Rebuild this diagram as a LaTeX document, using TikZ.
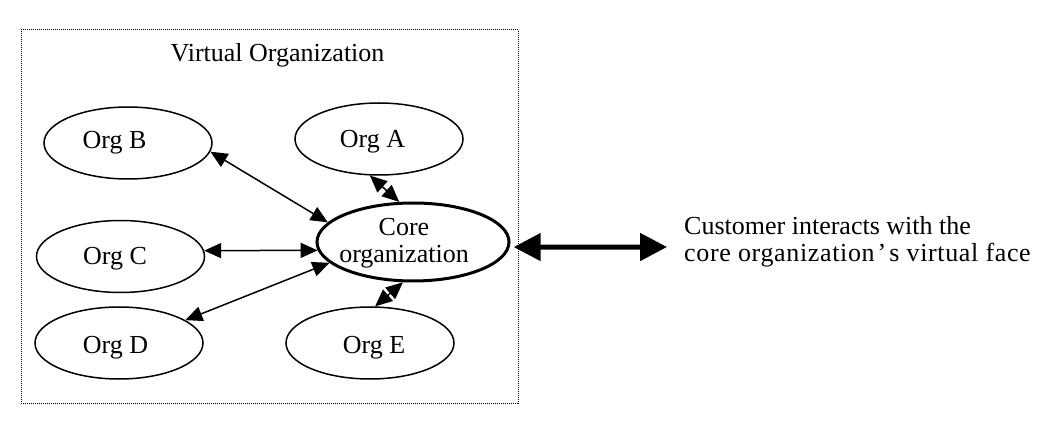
\documentclass[tikz,border=0pt]{standalone}
\usepackage{fontspec}
\setmainfont{Liberation Serif}
\usetikzlibrary{shapes.geometric,arrows.meta}
\begin{document}
\begin{tikzpicture}[x=1pt,y=-1pt,
  org/.style={ellipse,draw,line width=1.5pt,minimum width=168pt,minimum height=72pt,inner sep=0pt},
  core/.style={ellipse,draw,line width=3pt,minimum width=192pt,minimum height=78pt,inner sep=0pt},
  lbl/.style={font=\fontsize{26pt}{27.5pt}\selectfont,inner sep=0pt,anchor=base},
  link/.style={line width=1.5pt,{Triangle[length=17pt,width=15pt]}-{Triangle[length=17pt,width=15pt]}},
  biglink/.style={line width=5pt,{Triangle[length=27pt,width=27pt]}-{Triangle[length=27pt,width=27pt]}},
  frame/.style={draw,line width=1pt,dash pattern=on 1pt off 1pt}]
\useasboundingbox (0,0) rectangle (1049,427);
\node[frame,minimum width=497pt,minimum height=373pt,inner sep=0pt] (vo) at (269.5,216.5) {};
\node[lbl] (title) at (277.5,62) {Virtual Organization};
\node[org] (A) at (379,139) {};
\node[org] (B) at (128,143) {};
\node[org] (C) at (120.5,256.5) {};
\node[org] (D) at (119,343) {};
\node[org] (E) at (370,343) {};
\node[core] (Core) at (413,242) {};
\node[lbl] (tA) at (372.5,148) {Org A};
\node[lbl] (tB) at (114.5,149) {Org B};
\node[lbl] (tC) at (115,265) {Org C};
\node[lbl] (tD) at (115.5,353) {Org D};
\node[lbl] (tE) at (374,353) {Org E};
\node[lbl,align=center] (tCore) at (404,263) {Core\\organization};
\coordinate (cust) at (667,247);
\node[lbl,anchor=base west,align=left] (tCust) at (684,262) {Customer interacts with the\\{\addfontfeature{LetterSpace=2.5}core organization\hspace{3pt}’\hspace{3pt}s virtual face}};
\draw[link] (B.-6) -- (Core.167);
\draw[link] (A.-104) -- (Core.109);
\draw[link] (C.4) -- (Core.185);
\draw[link] (D.19) -- (Core.194);
\draw[link] (E.82) -- (Core.-104);
\draw[biglink] ([xshift=4pt]Core.-3) -- (cust);
\end{tikzpicture}
\end{document}
